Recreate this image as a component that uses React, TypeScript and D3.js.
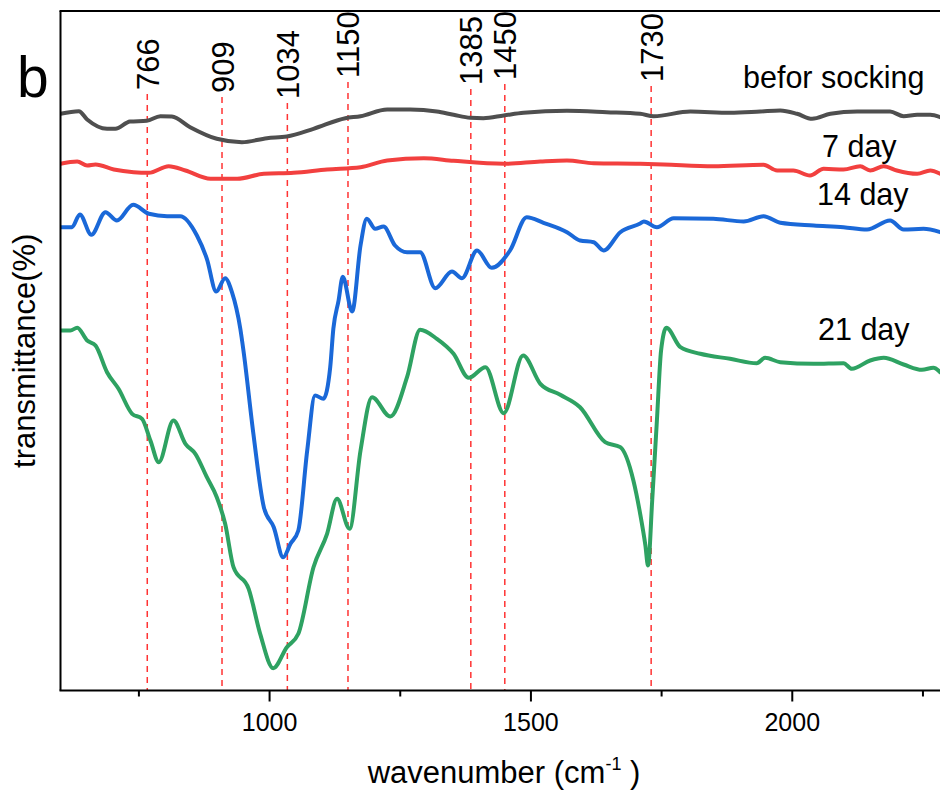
import React from "react";
import * as d3 from "d3";

// FTIR spectra (wavenumber in cm^-1, transmittance in arbitrary offset units)
const beforeWn = [600, 635, 651, 689, 705, 733, 765, 791, 813, 848, 899, 947, 995, 1033, 1084, 1145, 1174, 1225, 1269, 1320, 1352, 1384, 1409, 1448, 1486, 1569, 1645, 1709, 1735, 1805, 1881, 1939, 1977, 2009, 2038, 2073, 2124, 2187, 2213, 2239, 2264, 2283];
const beforeT = [576.7, 579.3, 571, 561.7, 561.7, 569, 569.7, 574.3, 574, 563.3, 551.7, 548.3, 552.3, 554, 561.7, 572.3, 574.3, 581, 581, 579, 575.7, 572.7, 572.3, 575, 577.7, 579.7, 578.3, 576.7, 574.3, 579, 577.7, 579, 580, 576.7, 571.7, 576.7, 579, 579, 574.3, 575.7, 575.7, 573.3];

const day7Wn = [600, 632, 651, 667, 702, 740, 769, 807, 839, 887, 938, 989, 1046, 1110, 1174, 1225, 1295, 1352, 1448, 1518, 1569, 1620, 1709, 1754, 1849, 1945, 1971, 2002, 2034, 2060, 2098, 2130, 2149, 2175, 2200, 2239, 2264, 2283];
const day7T = [526.7, 529, 525, 526, 521, 518.3, 517.7, 524.3, 520, 511.7, 511.7, 516.7, 517.7, 521, 523.3, 530, 532.3, 529.7, 526.7, 529, 530, 527.3, 526.7, 526, 524.3, 525.7, 520, 520, 515, 521.7, 521, 524.3, 520, 524.3, 520, 516.7, 520, 516.7];

const day14Wn = [600, 622, 637, 659, 686, 708, 739, 769, 804, 829, 861, 880, 898, 915, 928, 944, 950, 969, 989, 1008, 1026, 1040, 1055, 1072, 1087, 1103, 1116, 1122, 1132, 1140, 1158, 1174, 1186, 1202, 1218, 1240, 1263, 1288, 1317, 1349, 1368, 1397, 1425, 1460, 1492, 1524, 1569, 1594, 1620, 1639, 1671, 1709, 1716, 1741, 1773, 1849, 1907, 1945, 1977, 2041, 2098, 2143, 2187, 2213, 2251, 2283];
const day14T = [463.3, 463.3, 476, 455.7, 478.3, 470, 485.7, 476.7, 474.3, 474.3, 455, 431.7, 399, 412.3, 398.3, 361.7, 340, 256.7, 183.3, 163.3, 133.3, 146.7, 160, 240, 295, 291.7, 323.3, 361.7, 390, 413.7, 379, 445, 471.7, 461.7, 464, 445, 438.3, 438.3, 402.3, 419, 412.3, 440, 422.7, 440, 473.3, 467.7, 458.3, 450, 448.3, 440, 458.3, 467, 469, 463.3, 472.3, 471.7, 469, 474.3, 467.7, 465, 463.3, 461, 470, 461, 461.7, 458.3];

const day21Wn = [600, 619, 632, 651, 667, 689, 711, 737, 756, 772, 788, 816, 839, 858, 880, 899, 915, 931, 960, 982, 1007, 1033, 1055, 1084, 1110, 1129, 1153, 1174, 1196, 1231, 1263, 1288, 1320, 1352, 1381, 1413, 1448, 1485, 1518, 1556, 1594, 1642, 1671, 1696, 1709, 1719, 1724, 1732, 1741, 1749, 1759, 1786, 1824, 1881, 1932, 1948, 1977, 2041, 2098, 2114, 2149, 2175, 2213, 2248, 2270, 2283];
const day21T = [360, 360, 362.7, 350, 345, 318.3, 301.7, 276.7, 271.7, 250, 228.3, 270, 246.7, 236.7, 213.3, 193.3, 166.7, 123.3, 101.7, 56.7, 22.3, 43.3, 56.7, 123.3, 156.7, 191.7, 161.7, 240, 293.3, 274, 313.3, 360.7, 351.7, 336.7, 312.7, 323.3, 277.3, 335, 306.7, 295.7, 283.3, 248.3, 243.3, 210, 176.7, 145, 125, 190, 270, 340, 362.7, 343.3, 336.7, 331.7, 327.3, 332.7, 328.3, 326.7, 327.3, 321.7, 330, 332.7, 326, 320.7, 322.7, 318.3];

const seriesNames = ["befor socking", "7 day", "14 day", "21 day"];
const seriesColors = ["#4f4f4f", "#f2403f", "#1a68d8", "#2ea262"];

// marked absorption bands
const peakWn = [766, 909, 1034, 1150, 1385, 1450, 1730];

const xTicksMajor = [1000, 1500, 2000];
const xTicksMinor = [750, 1250, 1750, 2250];

// layout
const W = 940;
const H = 792;
const plotLeft = 60.5;
const plotTop = 11;
const plotBottom = 690.5;
const FONT = "'Liberation Sans', Arial, Helvetica, sans-serif";
const peakLabelBottom = [90, 93, 99, 78, 85, 80, 82];
const seriesLabelPos: [number, number][] = [
  [743, 88],
  [822, 157],
  [817, 205],
  [818, 340],
];

export default function App() {
  const x = d3.scaleLinear().domain([600, 2290]).range([plotLeft, plotLeft + 1690 * 0.5227]);
  const y = d3.scaleLinear().domain([0, 679.5]).range([plotBottom, plotTop]);

  const line = d3
    .line<[number, number]>()
    .x((d) => x(d[0]))
    .y((d) => y(d[1]))
    .curve(d3.curveMonotoneX);

  const series = [
    d3.zip(beforeWn, beforeT),
    d3.zip(day7Wn, day7T),
    d3.zip(day14Wn, day14T),
    d3.zip(day21Wn, day21T),
  ] as [number, number][][];

  const titleCx = 504;

  return (
    <div style={{ position: "absolute", left: 0, top: 0 }}>
      <svg width={W} height={H} style={{ display: "block", background: "#fff" }} fontFamily={FONT}>
        <defs>
          <clipPath id="plot-clip">
            <rect x={plotLeft} y={plotTop} width={W - plotLeft} height={plotBottom - plotTop} />
          </clipPath>
        </defs>

        {/* dashed band markers with rotated labels */}
        {peakWn.map((p, i) => (
          <g key={p}>
            <line
              x1={x(p)}
              x2={x(p)}
              y1={peakLabelBottom[i] + 4}
              y2={plotBottom}
              stroke="#ff3333"
              strokeWidth={1.5}
              strokeDasharray="6,5"
            />
            <text
              transform={`translate(${x(p) + 11.5},${peakLabelBottom[i]}) rotate(-90)`}
              fontSize={31}
              fill="#000"
              textAnchor="start"
            >
              {p}
            </text>
          </g>
        ))}

        {/* spectra */}
        <g clipPath="url(#plot-clip)">
          {series.map((s, i) => (
            <path
              key={seriesNames[i]}
              d={line(s) ?? ""}
              fill="none"
              stroke={seriesColors[i]}
              strokeWidth={4}
              strokeLinejoin="round"
              strokeLinecap="round"
            />
          ))}
        </g>

        {/* series labels */}
        {seriesNames.map((n, i) => (
          <text key={n} x={seriesLabelPos[i][0]} y={seriesLabelPos[i][1]} fontSize={30.5} fill="#000">
            {n}
          </text>
        ))}

        {/* frame */}
        <line x1={plotLeft} x2={plotLeft} y1={plotTop} y2={plotBottom} stroke="#000" strokeWidth={2} />
        <line x1={plotLeft - 1} x2={W} y1={plotBottom} y2={plotBottom} stroke="#000" strokeWidth={2} />
        <line x1={plotLeft - 1} x2={W} y1={plotTop} y2={plotTop} stroke="#000" strokeWidth={2} />

        {/* x ticks */}
        {xTicksMajor.map((t) => (
          <g key={t}>
            <line x1={x(t)} x2={x(t)} y1={plotBottom} y2={plotBottom + 11} stroke="#000" strokeWidth={2} />
            <text x={x(t)} y={731} fontSize={25} textAnchor="middle" fill="#000">
              {t}
            </text>
          </g>
        ))}
        {xTicksMinor.map((t) => (
          <line key={t} x1={x(t)} x2={x(t)} y1={plotBottom} y2={plotBottom + 6} stroke="#000" strokeWidth={2} />
        ))}

        {/* axis titles */}
        <text x={titleCx} y={783} fontSize={31} textAnchor="middle" fill="#000">
          wavenumber (cm
          <tspan fontSize={18} dy={-13}>
            -1
          </tspan>
          <tspan dy={13}> )</tspan>
        </text>
        <text transform={`translate(35,${(plotTop + plotBottom) / 2}) rotate(-90)`} fontSize={31} textAnchor="middle" fill="#000">
          transmittance(%)
        </text>

        {/* panel letter */}
        <text x={17} y={97} fontSize={57} fill="#000">
          b
        </text>
      </svg>
    </div>
  );
}
